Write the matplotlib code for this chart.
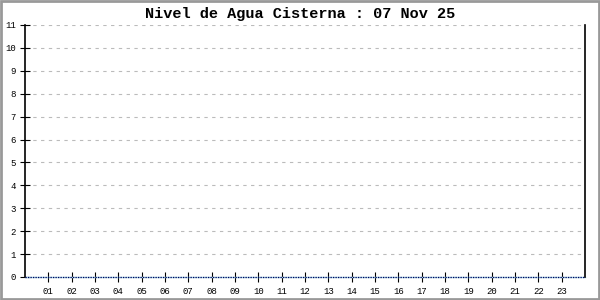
import matplotlib
matplotlib.use("Agg")
import matplotlib.pyplot as plt
from matplotlib.patches import Rectangle

title = "Nivel de Agua Cisterna : 07 Nov 25"
hours = list(range(0, 25))
nivel = [0] * 25
xticks = list(range(1, 24))
xlabels = ["%02d" % h for h in xticks]
yticks = list(range(0, 12))

fig = plt.figure(figsize=(6, 3), dpi=100)
ax = fig.add_axes([25 / 600, 23 / 300, 560 / 600, 252 / 300])

# linea de datos (todo en cero)
ax.plot(hours, nivel, color="#9ad0e0", lw=1.0, zorder=2, clip_on=False)
ax.plot(hours, nivel, color="#000060", lw=0.9, ls=(0, (1, 1)), zorder=3, clip_on=False)

ax.set_xlim(0, 24)
ax.set_ylim(0, 11)
ax.set_xticks(xticks)
ax.set_xticklabels(xlabels)
ax.set_yticks(yticks)
ax.grid(axis="y", color="#bbbbbb", ls=(0, (3, 4)), lw=0.8)
ax.set_axisbelow(True)

for s in ["top", "bottom"]:
    ax.spines[s].set_visible(False)
ax.spines["left"].set_linewidth(1.2)
ax.spines["right"].set_linewidth(1.2)

mono = ["Liberation Mono", "DejaVu Sans Mono"]
ax.tick_params(axis="both", direction="inout", length=7, width=0.8, colors="black",
               labelsize=6.5)
ax.tick_params(axis="x", pad=4)
ax.tick_params(axis="y", pad=3)
for lbl in ax.get_xticklabels() + ax.get_yticklabels():
    lbl.set_family(mono)

fig.text(0.5, 1 - 14 / 300, title, ha="center", va="center",
         family=mono, weight="bold", fontsize=11)

# marco gris de la imagen
fig.patches.append(Rectangle((0.002, 0.003), 0.996, 0.994, transform=fig.transFigure,
                             fill=False, edgecolor="#999999", lw=2))

fig.savefig("out.png", dpi=100)
